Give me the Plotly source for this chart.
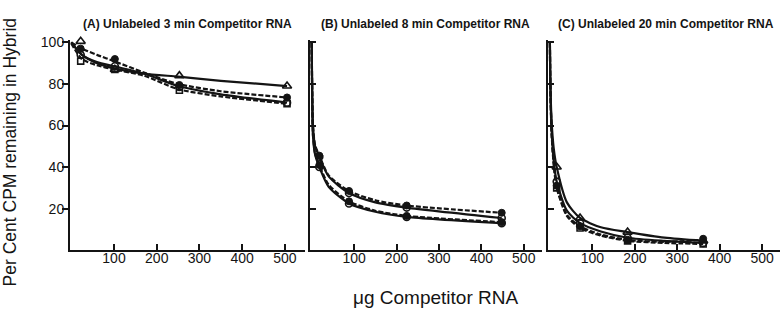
import plotly.graph_objects as go

# ---------------- data ----------------
# Panel A: unlabeled 3 min competitor RNA
a_cx = [0, 25, 60, 100, 170, 250, 350, 505]
a1_cy = [100, 94, 90, 87.5, 85, 83.5, 81.5, 79]
a2_cy = [100, 97, 94, 91, 85.5, 80, 76.5, 73.5]
a3_cy = [100, 94, 90.5, 88.5, 85, 79, 75, 71]
a4_cy = [99.5, 92, 89, 87, 84, 77.5, 74, 70.5]
a_mx = [22, 102, 253, 505]
a1_my = [100.5, 87, 84, 79]
a2_my = [97, 92, 79.5, 73.5]
a3_my = [94, 88.5, 78.5, 71]
a4_my = [91, 87, 77, 70.5]

# Panel B: unlabeled 8 min competitor RNA
b_cx = [0, 1, 3, 8, 18, 40, 88, 150, 224, 448]
b1_cy = [100, 80, 60, 50, 45, 35.5, 27.5, 23, 20.5, 15.5]
b2_cy = [100, 80, 60, 50.5, 45.5, 36, 28.5, 24, 21.5, 18]
b3_cy = [100, 76, 55, 46, 40, 30.5, 22.5, 18.5, 16, 13]
b4_cy = [100, 76, 55.5, 46.5, 41, 31.5, 23.5, 19, 16.5, 13.5]
b_mx = [18, 88, 224, 448]
b1_my = [45, 27.5, 20.5, 15.5]
b2_my = [45.5, 28.5, 21.5, 18]
b3_my = [40, 22.5, 16, 13]
b4_my = [41, 23.5, 16.5, 13.5]

# Panel C: unlabeled 20 min competitor RNA
c_cx = [0, 1, 4, 9, 16, 40, 71, 120, 183, 270, 361]
c1_cy = [100, 82, 62, 49, 40, 23, 15.5, 11, 8.7, 6, 4.5]
c2_cy = [100, 80, 58, 43, 33, 19, 13, 9, 6, 4.5, 3.5]
c3_cy = [100, 80, 57, 42, 31, 17, 11.5, 7.5, 5, 4, 5]
c4_cy = [100, 79, 56, 41, 30, 16.5, 10.7, 7, 4.5, 3.5, 3]
c_mx = [16, 71, 183, 361]
c1_my = [40, 15.5, 8.7, 4.5]
c2_my = [33, 13, 6, 3.5]
c3_my = [31, 11.5, 5, 5.5]
c4_my = [30, 10.7, 4.5, 3]

x_ticks = [100, 200, 300, 400, 500]
y_ticks = [20, 40, 60, 80, 100]
titles = ["(A) Unlabeled 3 min Competitor RNA",
          "(B) Unlabeled 8 min Competitor RNA",
          "(C) Unlabeled 20 min Competitor RNA"]
x_title = "\u03bcg Competitor RNA"
y_title = "Per Cent CPM remaining in Hybrid"

# ---------------- figure ----------------
INK = "#141414"
W, H = 783, 310
FONT = "Liberation Sans, Arial, sans-serif"

fig = go.Figure()

marker_styles = {
    "tri": dict(symbol="triangle-up-open", size=8, color=INK, line=dict(width=1.6, color=INK)),
    "fill": dict(symbol="circle", size=7, color=INK, line=dict(width=1, color=INK)),
    "open": dict(symbol="circle-open", size=7, color=INK, line=dict(width=1.6, color=INK)),
    "sq": dict(symbol="square-open", size=6, color=INK, line=dict(width=1.6, color=INK)),
}

panels = [
    ("x", "y", a_cx, a_mx, [(a1_cy, a1_my, "solid", "tri"), (a2_cy, a2_my, "dash", "fill"),
                             (a3_cy, a3_my, "solid", "open"), (a4_cy, a4_my, "dash", "sq")]),
    ("x2", "y2", b_cx, b_mx, [(b1_cy, b1_my, "solid", "open"), (b2_cy, b2_my, "dash", "fill"),
                               (b3_cy, b3_my, "solid", "open"), (b4_cy, b4_my, "dash", "fill")]),
    ("x3", "y3", c_cx, c_mx, [(c1_cy, c1_my, "solid", "tri"), (c2_cy, c2_my, "solid", "open"),
                               (c3_cy, c3_my, "dash", "fill"), (c4_cy, c4_my, "dash", "sq")]),
]

for xa, ya, cx, mx, series in panels:
    for cy, my, dash, mk in series:
        fig.add_trace(go.Scatter(
            x=cx, y=cy, xaxis=xa, yaxis=ya, mode="lines",
            line=dict(color=INK, width=2.2, dash="solid" if dash == "solid" else "5px,2px",
                      shape="spline", smoothing=0.7),
            showlegend=False, hoverinfo="skip", cliponaxis=True))
        fig.add_trace(go.Scatter(
            x=mx, y=my, xaxis=xa, yaxis=ya, mode="markers",
            marker=marker_styles[mk], showlegend=False, cliponaxis=False))

xdoms = [[70 / W, 305 / W], [310 / W, 542 / W], [548 / W, 780 / W]]
xranges = [[-3, 547], [-4, 543], [-4.5, 542]]
ydom = [(H - 249) / H, (H - 35) / H]

axis_font = dict(family=FONT, size=14, color=INK)
layout = dict(
    width=W, height=H, margin=dict(l=0, r=0, t=0, b=0),
    paper_bgcolor="white", plot_bgcolor="white",
    showlegend=False,
)
for i in range(3):
    sfx = "" if i == 0 else str(i + 1)
    layout["xaxis" + sfx] = dict(
        domain=xdoms[i], range=xranges[i], anchor="y" + sfx,
        showline=True, linecolor=INK, linewidth=2, mirror=False,
        showgrid=False, zeroline=False,
        tickmode="array", tickvals=x_ticks, ticktext=[str(v) for v in x_ticks],
        ticks="inside", ticklen=6, tickwidth=1.5, tickcolor=INK,
        ticklabelstandoff=-6,
        tickfont=axis_font, fixedrange=True)
    layout["yaxis" + sfx] = dict(
        domain=ydom, range=[0, 101], anchor="x" + sfx,
        showline=True, linecolor=INK, linewidth=2, mirror=False,
        showgrid=False, zeroline=False,
        tickmode="array", tickvals=y_ticks, ticktext=[str(v) for v in y_ticks],
        ticks="outside" if i == 0 else "inside", ticklen=6, tickwidth=1.5, tickcolor=INK,
        ticklabelstandoff=-5,
        showticklabels=(i == 0), tickfont=axis_font, fixedrange=True)
fig.update_layout(**layout)

# panel titles
centers = [187 / W, 425 / W, 666 / W]
for t, cxp in zip(titles, centers):
    fig.add_annotation(text="<b>" + t + "</b>", x=cxp, y=(H - 18) / H, xref="paper", yref="paper",
                       xanchor="center", yanchor="middle", showarrow=False,
                       font=dict(family=FONT, size=12, color=INK))

# axis titles
fig.add_annotation(text=x_title, x=435 / W, y=(H - 297) / H, xref="paper", yref="paper",
                   xanchor="center", yanchor="middle", showarrow=False,
                   font=dict(family=FONT, size=19, color=INK))
fig.add_annotation(text=y_title, x=10 / W, y=(H - 288) / H, xref="paper", yref="paper",
                   xanchor="center", yanchor="bottom", textangle=-90, showarrow=False,
                   font=dict(family=FONT, size=17.5, color=INK))

fig.write_html("out.html")
